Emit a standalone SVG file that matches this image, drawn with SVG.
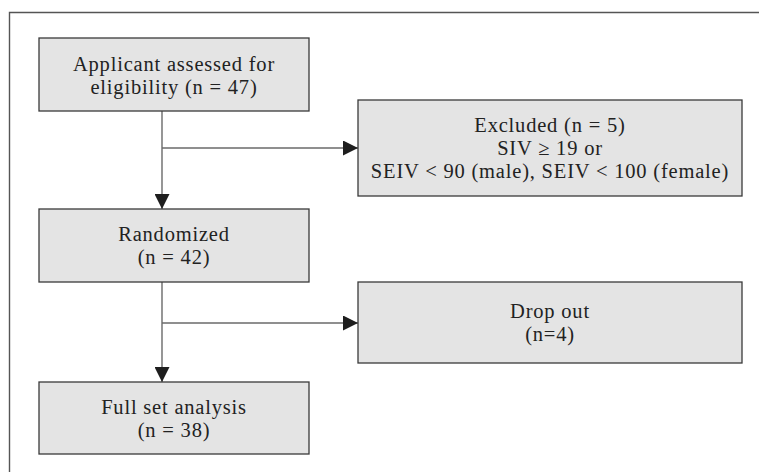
<svg xmlns="http://www.w3.org/2000/svg" width="759" height="472" viewBox="0 0 759 472">
<defs>
<style>
.box{fill:#e4e4e4;stroke:#3a3a3a;stroke-width:1.3}
.t{font-family:"Liberation Serif","DejaVu Serif",serif;font-size:20.5px;letter-spacing:0.8px;fill:#222;text-anchor:middle}
.c{fill:none;stroke:#6a6a6a;stroke-width:1.4}
</style>
<marker id="ah" markerWidth="15" markerHeight="15" viewBox="0 0 15 15" refX="15" refY="7.5" orient="auto" markerUnits="userSpaceOnUse">
<path d="M0,0 L15,7.5 L0,15 Z" fill="#1e1e1e"/>
</marker>
</defs>
<rect width="759" height="472" fill="#fff"/>
<path d="M9.5,472 V12.5 H759" fill="none" stroke="#555" stroke-width="1.4"/>
<g id="connectors">
<path class="c" d="M162,111 V209" marker-end="url(#ah)"/>
<path class="c" d="M162,148 H358" marker-end="url(#ah)"/>
<path class="c" d="M162,282 V382" marker-end="url(#ah)"/>
<path class="c" d="M162,323 H358" marker-end="url(#ah)"/>
</g>
<g id="n1">
<rect class="box" x="39" y="38" width="270" height="73"/>
<text class="t" x="174" y="71">Applicant assessed for</text>
<text class="t" x="174" y="94">eligibility (n = 47)</text>
</g>
<g id="n2">
<rect class="box" x="358" y="100" width="384" height="96"/>
<text class="t" x="550" y="132">Excluded (n = 5)</text>
<text class="t" x="550" y="155">SIV ≥ 19 or</text>
<text class="t" x="550" y="178">SEIV &lt; 90 (male), SEIV &lt; 100 (female)</text>
</g>
<g id="n3">
<rect class="box" x="39" y="209" width="270" height="73"/>
<text class="t" x="174" y="241">Randomized</text>
<text class="t" x="174" y="264">(n = 42)</text>
</g>
<g id="n4">
<rect class="box" x="358" y="282" width="384" height="81"/>
<text class="t" x="550" y="318">Drop out</text>
<text class="t" x="550" y="341">(n=4)</text>
</g>
<g id="n5">
<rect class="box" x="39" y="382" width="270" height="72"/>
<text class="t" x="174" y="414">Full set analysis</text>
<text class="t" x="174" y="437">(n = 38)</text>
</g>
</svg>
